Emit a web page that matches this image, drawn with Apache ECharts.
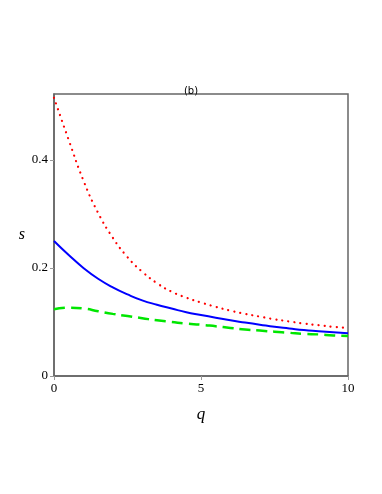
<!DOCTYPE html>
<html>
<head>
<meta charset="utf-8">
<script src="https://cdn.jsdelivr.net/npm/echarts@6/dist/echarts.min.js"></script>
<style>
  html, body { margin: 0; padding: 0; background: #fff; }
  #chart { width: 382px; height: 494px; }
</style>
</head>
<body>
<div id="chart"></div>
<script>
const qValues = [0, 0.5, 1, 1.5, 2, 2.5, 3, 3.5, 4, 4.5, 5, 5.5, 6, 6.5, 7, 7.5, 8, 8.5, 9, 9.5, 10];
// red dotted curve
const sRed = [0.515, 0.437, 0.362, 0.302, 0.256, 0.220, 0.193, 0.172, 0.156, 0.145, 0.136, 0.128, 0.121, 0.115, 0.110, 0.105, 0.101, 0.097, 0.094, 0.091, 0.089];
// blue solid curve
const sBlue = [0.250, 0.224, 0.200, 0.180, 0.164, 0.151, 0.140, 0.132, 0.125, 0.118, 0.113, 0.108, 0.103, 0.099, 0.095, 0.091, 0.088, 0.085, 0.083, 0.081, 0.079];
// green dashed curve
const sGreen = [0.1235, 0.1265, 0.125, 0.120, 0.115, 0.111, 0.107, 0.103, 0.100, 0.097, 0.095, 0.092, 0.089, 0.086, 0.084, 0.082, 0.080, 0.078, 0.077, 0.075, 0.074];
const xTicks = [0, 5, 10];
const yTicks = [0, 0.2, 0.4];

const pairs = ys => qValues.map((q, i) => [q, ys[i]]);
const frame = '#666';
const serif = 'Liberation Serif';

const myChart = echarts.init(document.getElementById('chart'));
const option = {
  animation: false,
  title: {
    text: '(b)',
    left: 186, top: 81,
    textAlign: 'center',
    textStyle: { fontFamily: 'DejaVu Sans', fontSize: 10, fontWeight: 'normal', color: '#000' }
  },
  grid: { left: 54, right: 34, top: 94, bottom: 118, show: true, borderColor: frame, borderWidth: 1.5 },
  xAxis: {
    type: 'value', min: 0, max: 10, interval: 5,
    name: 'q', nameLocation: 'middle', nameGap: 30,
    nameTextStyle: { fontFamily: serif, fontStyle: 'italic', fontSize: 17, color: '#000' },
    axisLine: { lineStyle: { color: frame, width: 1.5 } },
    axisTick: { length: 4, lineStyle: { color: '#999' } },
    axisLabel: {
      fontFamily: serif, fontSize: 13, color: '#000', margin: 6,
      formatter: v => xTicks.includes(v) ? String(v) : ''
    },
    splitLine: { show: false }
  },
  yAxis: {
    type: 'value', min: 0, max: 0.522, interval: 0.2,
    name: 's', nameLocation: 'middle', nameGap: 29, nameRotate: 0,
    nameTextStyle: { fontFamily: serif, fontStyle: 'italic', fontSize: 16, color: '#000', padding: [0, 0, 58, 0] },
    axisLine: { lineStyle: { color: frame, width: 1.5 } },
    axisTick: { length: 4, lineStyle: { color: '#999' } },
    axisLabel: {
      fontFamily: serif, fontSize: 13, color: '#000', margin: 6, showMaxLabel: false,
      formatter: v => yTicks.some(t => Math.abs(t - v) < 1e-9) ? String(v) : ''
    },
    splitLine: { show: false }
  },
  series: [
    {
      name: 'red', type: 'line', smooth: true, showSymbol: false,
      data: pairs(sRed),
      lineStyle: { color: '#ff0000', width: 2.2, type: [0.1, 6], cap: 'round' }
    },
    {
      name: 'blue', type: 'line', smooth: true, showSymbol: false,
      data: pairs(sBlue),
      lineStyle: { color: '#0000ff', width: 2 }
    },
    {
      name: 'green', type: 'line', smooth: true, showSymbol: false,
      data: pairs(sGreen),
      lineStyle: { color: '#00e600', width: 2.5, type: [11, 6] }
    }
  ]
};
myChart.setOption(option);
</script>
</body>
</html>
